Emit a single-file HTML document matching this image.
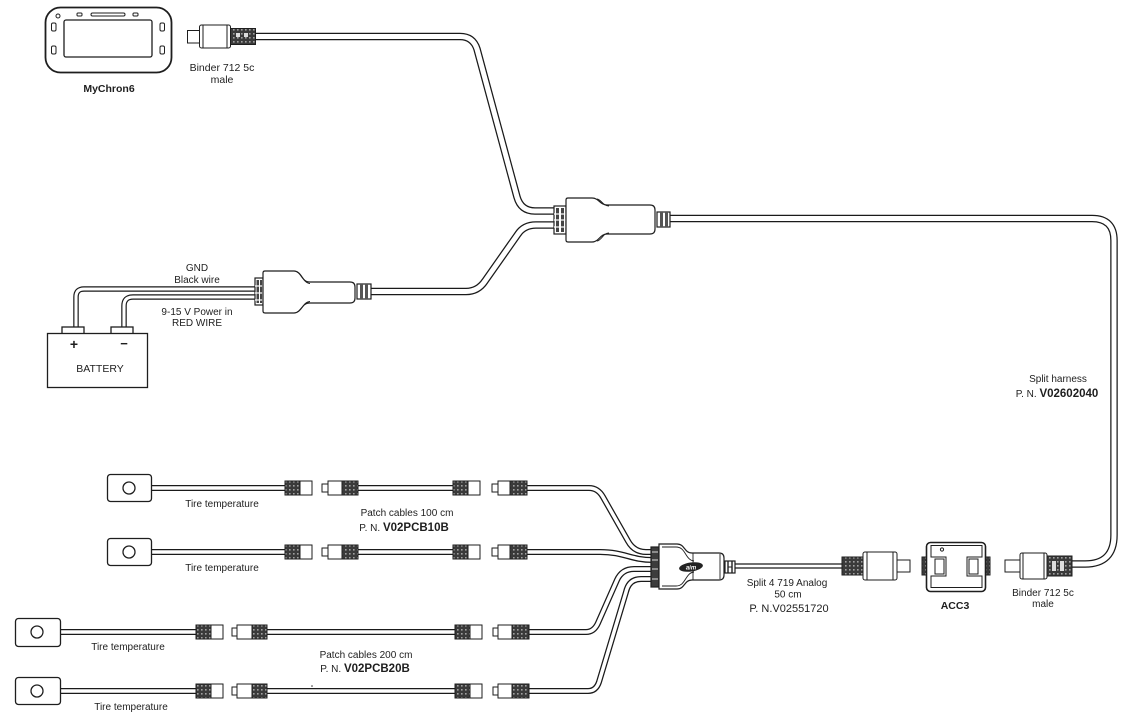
<!DOCTYPE html>
<html><head><meta charset="utf-8">
<style>
html,body{margin:0;padding:0;background:#fff;}
svg{display:block;}
text{font-family:"Liberation Sans",Arial,sans-serif;fill:#1e1e1e;}
</style></head>
<body>
<svg width="1132" height="721" viewBox="0 0 1132 721" xmlns="http://www.w3.org/2000/svg">
<defs>
 <pattern id="kp" width="4" height="4" patternUnits="userSpaceOnUse">
  <rect width="4" height="4" fill="#3a3a3a"/>
  <rect x="1" y="1" width="1.6" height="1.6" fill="#a0a0a0"/>
 </pattern>
</defs>
<rect width="1132" height="721" fill="#fff"/>

<!-- ============ CABLES (black under, white over) ============ -->
<g fill="none" stroke-linejoin="round" stroke-linecap="butt">
 <!-- main cables -->
 <g stroke="#1a1a1a" stroke-width="7.5">
  <path d="M255,36.5 L460,36.5 Q473,36.5 477,49 L517,197 Q521,211 535,211 L556,211"/>
  <path d="M370,291.5 L466,291.5 Q478,291.5 485,281 L518,234 Q524,225 536,225 L556,225"/>
  <path d="M668,218.5 L1092,218.5 Q1114,218.5 1114,240.5 L1114,535 Q1114,564 1085,564 L1071,564"/>
 </g>
 <g stroke="#fff" stroke-width="5">
  <path d="M255,36.5 L460,36.5 Q473,36.5 477,49 L517,197 Q521,211 535,211 L556,211"/>
  <path d="M370,291.5 L466,291.5 Q478,291.5 485,281 L518,234 Q524,225 536,225 L556,225"/>
  <path d="M668,218.5 L1092,218.5 Q1114,218.5 1114,240.5 L1114,535 Q1114,564 1085,564 L1071,564"/>
 </g>
 <!-- battery wires -->
 <g stroke="#1a1a1a" stroke-width="5.5">
  <path d="M257,289 L84,289 Q76,289 76,297 L76,328"/>
  <path d="M257,297 L133,297 Q124,297 124,306 L124,328"/>
 </g>
 <g stroke="#fff" stroke-width="3.1">
  <path d="M257,289 L84,289 Q76,289 76,297 L76,328"/>
  <path d="M257,297 L133,297 Q124,297 124,306 L124,328"/>
 </g>
 <!-- sensor / patch cables -->
 <g stroke="#1a1a1a" stroke-width="6">
  <path d="M151,488 L286,488 M357,488 L454,488"/>
  <path d="M151,552 L286,552 M357,552 L454,552"/>
  <path d="M60,632 L197,632 M266,632 L456,632"/>
  <path d="M60,691 L197,691 M266,691 L456,691"/>
  <path d="M526,488 L589,488 Q598,488 603,497 L628,541 Q634,552 646,552 L653,552"/>
  <path d="M526,552 L600,552 C625,552 630,560 653,560"/>
  <path d="M528,632 L586,632 Q594,632 598,623 L617,580 Q622,569 634,569 L653,569"/>
  <path d="M528,691 L588,691 Q596,691 599,682 L626,592 Q629,579 641,579 L653,579"/>
  <path d="M734,566 L843,566" stroke-width="5.2"/>
 </g>
 <g stroke="#fff" stroke-width="3.5">
  <path d="M151,488 L286,488 M357,488 L454,488"/>
  <path d="M151,552 L286,552 M357,552 L454,552"/>
  <path d="M60,632 L197,632 M266,632 L456,632"/>
  <path d="M60,691 L197,691 M266,691 L456,691"/>
  <path d="M526,488 L589,488 Q598,488 603,497 L628,541 Q634,552 646,552 L653,552"/>
  <path d="M526,552 L600,552 C625,552 630,560 653,560"/>
  <path d="M528,632 L586,632 Q594,632 598,623 L617,580 Q622,569 634,569 L653,569"/>
  <path d="M528,691 L588,691 Q596,691 599,682 L626,592 Q629,579 641,579 L653,579"/>
  <path d="M734,566 L843,566" stroke-width="2.8"/>
 </g>
</g>

<!-- ============ MyChron6 ============ -->
<g fill="#fff" stroke="#1e1e1e">
 <rect x="45.5" y="7.5" width="126" height="65" rx="15" stroke-width="1.8"/>
 <rect x="64" y="20" width="88" height="37" rx="2" stroke-width="1.3"/>
 <rect x="51.5" y="23" width="4.5" height="8" rx="1.5" stroke-width="1"/>
 <rect x="51.5" y="46" width="4.5" height="8" rx="1.5" stroke-width="1"/>
 <rect x="160" y="23" width="4.5" height="8" rx="1.5" stroke-width="1"/>
 <rect x="160" y="46" width="4.5" height="8" rx="1.5" stroke-width="1"/>
 <rect x="77" y="13" width="5" height="3" rx="1" stroke-width="1"/>
 <rect x="91" y="13" width="34" height="3" rx="1.5" stroke-width="1"/>
 <rect x="133" y="13" width="5" height="3" rx="1" stroke-width="1"/>
 <circle cx="58" cy="16" r="2" stroke-width="1"/>
</g>
<text x="109" y="92" font-size="10.5" font-weight="bold" text-anchor="middle">MyChron6</text>

<!-- top Binder connector -->
<g stroke="#1e1e1e" stroke-width="1">
 <rect x="187.5" y="30.5" width="12" height="12.5" fill="#fff"/>
 <rect x="199.5" y="25" width="31" height="23" rx="2" fill="#fff"/>
 <line x1="203" y1="25" x2="203" y2="48"/>
 <line x1="227" y1="25" x2="227" y2="48"/>
 <rect x="230.5" y="28.5" width="25" height="16" fill="url(#kp)"/>
 <rect x="236" y="33" width="4" height="4" fill="#ddd" stroke="none"/>
 <rect x="244" y="33" width="4" height="4" fill="#ddd" stroke="none"/>
</g>
<text x="222" y="71" font-size="10.5" text-anchor="middle">Binder 712 5c</text>
<text x="222" y="83" font-size="10.5" text-anchor="middle">male</text>

<!-- ============ Top splitter ============ -->
<g stroke="#1e1e1e" stroke-width="1.2" fill="#fff">
 <rect x="554" y="206" width="12" height="28" fill="#fff"/>
 <rect x="556" y="208" width="3" height="24" fill="#444" stroke="none"/>
 <rect x="561" y="208" width="3" height="24" fill="#444" stroke="none"/>
 <line x1="554" y1="214" x2="566" y2="214" stroke="#fff"/>
 <line x1="554" y1="220" x2="566" y2="220" stroke="#fff"/>
 <line x1="554" y1="227" x2="566" y2="227" stroke="#fff"/>
 <path d="M566,200 Q566,198 568,198 L592,198 C599,198 600,205 607,205 L650,205 Q655,205 655,210 L655,229 Q655,234 650,234 L607,234 C600,234 599,242 592,242 L568,242 Q566,242 566,240 Z"/>
 <path d="M597,199 C602,200 603,206 609,206" fill="none" stroke-width="0.9"/>
 <path d="M597,241 C602,240 603,233 609,233" fill="none" stroke-width="0.9"/>
 <rect x="657" y="212" width="13" height="15" fill="#fff"/>
 <rect x="660" y="212" width="3" height="15" fill="#555" stroke="none"/>
 <rect x="665" y="212" width="3" height="15" fill="#555" stroke="none"/>
</g>

<!-- ============ Battery connector ============ -->
<g stroke="#1e1e1e" stroke-width="1.2" fill="#fff">
 <rect x="255" y="278" width="8" height="27" fill="#fff"/>
 <rect x="256.5" y="280" width="2.5" height="23" fill="#444" stroke="none"/>
 <rect x="260" y="280" width="2" height="23" fill="#444" stroke="none"/>
 <line x1="255" y1="286" x2="263" y2="286" stroke="#fff"/>
 <line x1="255" y1="293" x2="263" y2="293" stroke="#fff"/>
 <line x1="255" y1="300" x2="263" y2="300" stroke="#fff"/>
 <path d="M263,273 Q263,271 265,271 L294,271 C301,271 302,282 309,282 L350,282 Q355,282 355,287 L355,298 Q355,303 350,303 L309,303 C302,303 301,313 294,313 L265,313 Q263,313 263,311 Z"/>
 <path d="M297,272 C302,273 303,283 310,283.5" fill="none" stroke-width="0.9"/>
 <path d="M297,312 C302,311 303,302 310,301.5" fill="none" stroke-width="0.9"/>
 <rect x="357" y="284" width="14" height="15" fill="#fff"/>
 <rect x="360" y="284" width="3" height="15" fill="#555" stroke="none"/>
 <rect x="365" y="284" width="3" height="15" fill="#555" stroke="none"/>
</g>
<text x="197" y="271" font-size="10" text-anchor="middle">GND</text>
<text x="197" y="283" font-size="10" text-anchor="middle">Black wire</text>
<text x="197" y="315" font-size="10" text-anchor="middle">9-15 V Power in</text>
<text x="197" y="326" font-size="10" text-anchor="middle">RED WIRE</text>

<!-- Battery -->
<g stroke="#1e1e1e" stroke-width="1.3" fill="#fff">
 <rect x="62" y="327" width="22" height="7"/>
 <rect x="111" y="327" width="22" height="7"/>
 <rect x="47.5" y="333.5" width="100" height="54"/>
</g>
<text x="74" y="349" font-size="14" font-weight="bold" text-anchor="middle">+</text>
<text x="124" y="348" font-size="13" font-weight="bold" text-anchor="middle">−</text>
<text x="100" y="372" font-size="10.5" text-anchor="middle">BATTERY</text>

<!-- Split harness label -->
<text x="1058" y="382" font-size="10" text-anchor="middle">Split harness</text>
<text x="1057" y="397" font-size="10" text-anchor="middle">P. N. <tspan font-weight="bold" font-size="11.5">V02602040</tspan></text>

<!-- ============ Sensors ============ -->
<g stroke="#1e1e1e" stroke-width="1.3" fill="#fff">
 <rect x="107.5" y="474.5" width="44" height="27" rx="3"/>
 <circle cx="129" cy="488" r="6"/>
 <rect x="107.5" y="538.5" width="44" height="27" rx="3"/>
 <circle cx="129" cy="552" r="6"/>
 <rect x="15.5" y="618.5" width="45" height="28" rx="3"/>
 <circle cx="37" cy="632" r="6"/>
 <rect x="15.5" y="677.5" width="45" height="27" rx="3"/>
 <circle cx="37" cy="691" r="6"/>
</g>

<!-- ============ Small connectors ============ -->
<g stroke="#1e1e1e" stroke-width="1" fill="#fff">
 <!-- row 1 y=488 -->
 <rect x="285" y="481" width="15" height="14" fill="url(#kp)"/><rect x="300" y="481" width="12" height="14"/>
 <rect x="322" y="484" width="6" height="8"/><rect x="328" y="481" width="14" height="14"/><rect x="342" y="481" width="16" height="14" fill="url(#kp)"/>
 <rect x="453" y="481" width="15" height="14" fill="url(#kp)"/><rect x="468" y="481" width="12" height="14"/>
 <rect x="492" y="484" width="6" height="8"/><rect x="498" y="481" width="12" height="14"/><rect x="510" y="481" width="17" height="14" fill="url(#kp)"/>
 <!-- row 2 y=552 -->
 <rect x="285" y="545" width="15" height="14" fill="url(#kp)"/><rect x="300" y="545" width="12" height="14"/>
 <rect x="322" y="548" width="6" height="8"/><rect x="328" y="545" width="14" height="14"/><rect x="342" y="545" width="16" height="14" fill="url(#kp)"/>
 <rect x="453" y="545" width="15" height="14" fill="url(#kp)"/><rect x="468" y="545" width="12" height="14"/>
 <rect x="492" y="548" width="6" height="8"/><rect x="498" y="545" width="12" height="14"/><rect x="510" y="545" width="17" height="14" fill="url(#kp)"/>
 <!-- row 3 y=632 -->
 <rect x="196" y="625" width="15" height="14" fill="url(#kp)"/><rect x="211" y="625" width="12" height="14"/>
 <rect x="232" y="628" width="5" height="8"/><rect x="237" y="625" width="15" height="14"/><rect x="252" y="625" width="15" height="14" fill="url(#kp)"/>
 <rect x="455" y="625" width="15" height="14" fill="url(#kp)"/><rect x="470" y="625" width="12" height="14"/>
 <rect x="493" y="628" width="5" height="8"/><rect x="498" y="625" width="14" height="14"/><rect x="512" y="625" width="17" height="14" fill="url(#kp)"/>
 <!-- row 4 y=691 -->
 <rect x="196" y="684" width="15" height="14" fill="url(#kp)"/><rect x="211" y="684" width="12" height="14"/>
 <rect x="232" y="687" width="5" height="8"/><rect x="237" y="684" width="15" height="14"/><rect x="252" y="684" width="15" height="14" fill="url(#kp)"/>
 <rect x="455" y="684" width="15" height="14" fill="url(#kp)"/><rect x="470" y="684" width="12" height="14"/>
 <rect x="493" y="687" width="5" height="8"/><rect x="498" y="684" width="14" height="14"/><rect x="512" y="684" width="17" height="14" fill="url(#kp)"/>
</g>

<text x="222" y="507" font-size="10" text-anchor="middle">Tire temperature</text>
<text x="222" y="571" font-size="10" text-anchor="middle">Tire temperature</text>
<text x="128" y="650" font-size="10" text-anchor="middle">Tire temperature</text>
<text x="131" y="710" font-size="10" text-anchor="middle">Tire temperature</text>

<text x="407" y="516" font-size="10" text-anchor="middle">Patch cables 100 cm</text>
<text x="404" y="531" font-size="10" text-anchor="middle">P. N. <tspan font-weight="bold" font-size="11.5">V02PCB10B</tspan></text>
<text x="366" y="658" font-size="10" text-anchor="middle">Patch cables 200 cm</text>
<text x="365" y="672" font-size="10" text-anchor="middle">P. N. <tspan font-weight="bold" font-size="11.5">V02PCB20B</tspan></text>
<circle cx="312" cy="686" r="0.8" fill="#333"/>

<!-- ============ Hub ============ -->
<g stroke="#1e1e1e" stroke-width="1.2" fill="#fff">
 <rect x="651" y="547" width="8" height="40" fill="#3c3c3c"/>
 <line x1="652" y1="552" x2="658" y2="552" stroke="#ddd" stroke-width="1"/>
 <line x1="652" y1="560" x2="658" y2="560" stroke="#ddd" stroke-width="1"/>
 <line x1="652" y1="569" x2="658" y2="569" stroke="#ddd" stroke-width="1"/>
 <line x1="652" y1="579" x2="658" y2="579" stroke="#ddd" stroke-width="1"/>
 <path d="M659,544 L677,544 C685,544 684,553 692,553 L719,553 Q724,553 724,558 L724,575 Q724,580 719,580 L692,580 C684,580 685,589 677,589 L659,589 Z"/>
 <path d="M662,547 L676,547 C686,547 685,560 694,561" fill="none" stroke-width="0.9"/>
 <path d="M662,586 L676,586 C686,586 685,573 694,572" fill="none" stroke-width="0.9"/>
 <line x1="693" y1="553" x2="693" y2="580" stroke-width="0.9"/>
 <line x1="720" y1="554" x2="720" y2="579" stroke-width="0.9"/>
 <rect x="725" y="561" width="10" height="12" fill="#fff"/>
 <line x1="728" y1="561" x2="728" y2="573" stroke-width="1.4"/>
 <line x1="732" y1="561" x2="732" y2="573" stroke-width="1.4"/>
 <line x1="728" y1="567" x2="732" y2="567" stroke-width="1"/>
</g>
<ellipse cx="691" cy="567" rx="12" ry="4.5" transform="rotate(-8 691 567)" fill="#222"/>
<text x="691" y="569.5" font-size="6" font-weight="bold" font-style="italic" text-anchor="middle" style="fill:#fff">aim</text>

<text x="787" y="586" font-size="10" text-anchor="middle">Split 4 719 Analog</text>
<text x="788" y="597.5" font-size="10" text-anchor="middle">50 cm</text>
<text x="789" y="612" font-size="11" text-anchor="middle">P. N.V02551720</text>

<!-- ACC3 left connector -->
<g stroke="#1e1e1e" stroke-width="1" fill="#fff">
 <rect x="842" y="557" width="21" height="18" fill="url(#kp)"/>
 <rect x="863" y="552" width="34" height="28" rx="2"/>
 <line x1="867" y1="552" x2="867" y2="580"/>
 <line x1="893" y1="552" x2="893" y2="580"/>
 <rect x="897" y="560" width="13" height="12"/>
</g>

<!-- ACC3 -->
<g stroke="#1e1e1e" fill="#fff">
 <rect x="922" y="557" width="5" height="18" fill="url(#kp)" stroke-width="1"/>
 <rect x="985" y="557" width="5" height="18" fill="url(#kp)" stroke-width="1"/>
 <rect x="926.5" y="542.5" width="59" height="49" rx="4" stroke-width="1.6"/>
 <path d="M931,545.5 L982,545.5 L982,557 L967,557 L967,576 L982,576 L982,587.5 L931,587.5 L931,576 L946,576 L946,557 L931,557 Z" fill="none" stroke-width="1"/>
 <rect x="935" y="559" width="9" height="15" stroke-width="1"/>
 <rect x="969" y="559" width="9" height="15" stroke-width="1"/>
 <circle cx="942" cy="549.5" r="1.6" stroke-width="1"/>
</g>
<text x="955" y="609" font-size="10.5" font-weight="bold" text-anchor="middle">ACC3</text>

<!-- right Binder connector -->
<g stroke="#1e1e1e" stroke-width="1" fill="#fff">
 <rect x="1005" y="560" width="15" height="12"/>
 <rect x="1020" y="553" width="27" height="26" rx="2"/>
 <line x1="1023" y1="553" x2="1023" y2="579"/>
 <line x1="1044" y1="553" x2="1044" y2="579"/>
 <rect x="1047" y="556" width="25" height="20" fill="url(#kp)"/>
 <rect x="1052" y="561" width="4" height="10" fill="#ddd" stroke="none"/>
 <rect x="1060" y="561" width="4" height="10" fill="#ddd" stroke="none"/>
</g>
<text x="1043" y="596" font-size="10" text-anchor="middle">Binder 712 5c</text>
<text x="1043" y="607" font-size="10" text-anchor="middle">male</text>
</svg>
</body></html>
